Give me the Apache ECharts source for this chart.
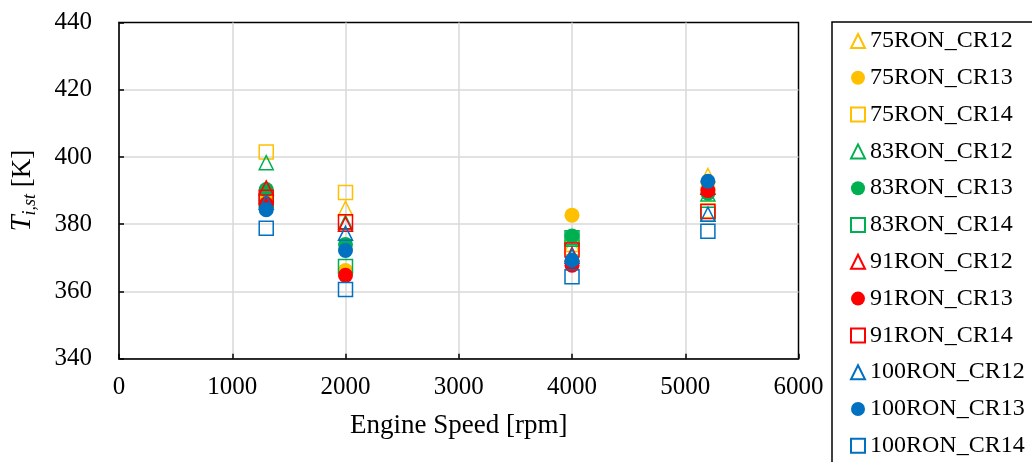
<!DOCTYPE html>
<html>
<head>
<meta charset="utf-8">
<script src="https://cdn.jsdelivr.net/npm/echarts@6/dist/echarts.min.js"></script>
<style>
  html, body { margin: 0; padding: 0; background: #fff; }
  #chart { width: 1032px; height: 462px; }
</style>
</head>
<body>
<div id="chart"></div>
<script>
// Engine speeds at which the temperature was evaluated [rpm]
const speeds = [1300, 2000, 4000, 5200];

// T_i,st [K] per fuel / compression ratio case
const ron75_cr12 = [389.0, 384.7, 374.0, 394.5];
const ron75_cr13 = [388.5, 366.2, 382.7, 390.5];
const ron75_cr14 = [401.5, 389.4, 373.0, 384.0];
const ron83_cr12 = [398.3, 380.5, 375.5, 389.0];
const ron83_cr13 = [390.3, 374.0, 376.5, 389.2];
const ron83_cr14 = [387.0, 367.4, 376.0, 383.0];
const ron91_cr12 = [390.8, 380.0, 371.0, 391.0];
const ron91_cr13 = [386.0, 364.8, 367.8, 390.0];
const ron91_cr14 = [388.0, 380.7, 372.3, 383.8];
const ron100_cr12 = [386.5, 377.3, 370.5, 383.0];
const ron100_cr13 = [384.3, 372.2, 369.3, 392.8];
const ron100_cr14 = [378.8, 360.6, 364.4, 377.9];

const xTicks = [0, 1000, 2000, 3000, 4000, 5000, 6000];
const yTicks = [340, 360, 380, 400, 420, 440];

const cases = [
  ['75RON_CR12', ron75_cr12, '#FFC000', 'triangle'],
  ['75RON_CR13', ron75_cr13, '#FFC000', 'circle'],
  ['75RON_CR14', ron75_cr14, '#FFC000', 'rect'],
  ['83RON_CR12', ron83_cr12, '#00B050', 'triangle'],
  ['83RON_CR13', ron83_cr13, '#00B050', 'circle'],
  ['83RON_CR14', ron83_cr14, '#00B050', 'rect'],
  ['91RON_CR12', ron91_cr12, '#FF0000', 'triangle'],
  ['91RON_CR13', ron91_cr13, '#FF0000', 'circle'],
  ['91RON_CR14', ron91_cr14, '#FF0000', 'rect'],
  ['100RON_CR12', ron100_cr12, '#0070C0', 'triangle'],
  ['100RON_CR13', ron100_cr13, '#0070C0', 'circle'],
  ['100RON_CR14', ron100_cr14, '#0070C0', 'rect']
];

const FONT = '"Liberation Serif", "Times New Roman", serif';

const series = cases.map(([name, vals, color, shape]) => {
  const filled = shape === 'circle';
  return {
    name: name,
    type: 'scatter',
    symbol: shape,
    symbolSize: filled ? 15 : 14,
    data: speeds.map((s, i) => [s, vals[i]]),
    itemStyle: filled
      ? { color: color, opacity: 1 }
      : { color: 'rgba(255,255,255,0)', borderColor: color, borderWidth: 1.5, opacity: 1 },
    emphasis: { disabled: true },
    z: 3
  };
});

const chart = echarts.init(document.getElementById('chart'), null, { renderer: 'canvas' });
chart.setOption({
  animation: false,
  backgroundColor: '#fff',
  textStyle: { fontFamily: FONT, color: '#000' },
  grid: {
    left: 117.5, top: 22.5, right: 233.5, bottom: 103.3,
    show: true, borderColor: '#000', borderWidth: 1.5, backgroundColor: 'transparent'
  },
  legend: {
    orient: 'vertical',
    left: 832, top: 22,
    height: 440,
    padding: [7, 200, 20, 18],
    borderColor: '#000', borderWidth: 1.5,
    itemWidth: 14, itemHeight: 14, itemGap: 12.8,
    textStyle: { fontFamily: FONT, fontSize: 24, lineHeight: 24, color: '#000' },
    data: cases.map(c => c[0])
  },
  xAxis: {
    type: 'value',
    min: xTicks[0], max: xTicks[xTicks.length - 1], interval: 1000,
    name: 'Engine Speed [rpm]',
    nameLocation: 'middle', nameGap: 54,
    nameTextStyle: { fontFamily: FONT, fontSize: 27, color: '#000' },
    axisLine: { show: true, lineStyle: { color: '#000', width: 1.5 } },
    axisTick: { show: true, inside: true, length: 5, lineStyle: { color: '#000', width: 1.5 } },
    axisLabel: { fontFamily: FONT, fontSize: 25, color: '#000', margin: 16, formatter: v => String(v) },
    splitLine: { show: true, showMaxLine: false, lineStyle: { color: '#D9D9D9', width: 1.5 } }
  },
  yAxis: {
    type: 'value',
    min: yTicks[0], max: yTicks[yTicks.length - 1], interval: 20,
    name: '{t|T}{s|i,st}{n| [K]}',
    nameLocation: 'middle', nameGap: 80, nameRotate: 90,
    nameTextStyle: {
      fontFamily: FONT, color: '#000',
      rich: {
        t: { fontFamily: FONT, fontSize: 29, fontStyle: 'italic', color: '#000' },
        s: { fontFamily: FONT, fontSize: 18, fontStyle: 'italic', color: '#000', padding: [15, 0, 0, 0] },
        n: { fontFamily: FONT, fontSize: 27, color: '#000' }
      }
    },
    axisLine: { show: true, lineStyle: { color: '#000', width: 1.5 } },
    axisTick: { show: true, inside: true, length: 5, lineStyle: { color: '#000', width: 1.5 } },
    axisLabel: { fontFamily: FONT, fontSize: 25, color: '#000', margin: 27, formatter: v => String(v) },
    splitLine: { show: true, showMaxLine: false, lineStyle: { color: '#D9D9D9', width: 1.5 } }
  },
  series: series
});
</script>
</body>
</html>
